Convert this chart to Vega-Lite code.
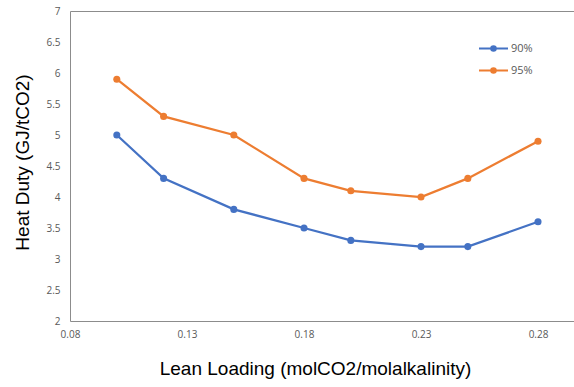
{
  "$schema": "https://vega.github.io/schema/vega-lite/v6.json",
  "autosize": "none",
  "width": 505,
  "height": 310,
  "padding": {"left": 70, "top": 11, "right": 0, "bottom": 66},
  "background": "white",
  "config": {
    "view": {"stroke": "#8c8c8c", "strokeWidth": 1},
    "font": "Liberation Sans"
  },
  "data": {
    "values": [
      {"x": 0.10, "y": 5.0, "series": "90%"},
      {"x": 0.12, "y": 4.3, "series": "90%"},
      {"x": 0.15, "y": 3.8, "series": "90%"},
      {"x": 0.18, "y": 3.5, "series": "90%"},
      {"x": 0.20, "y": 3.3, "series": "90%"},
      {"x": 0.23, "y": 3.2, "series": "90%"},
      {"x": 0.25, "y": 3.2, "series": "90%"},
      {"x": 0.28, "y": 3.6, "series": "90%"},
      {"x": 0.10, "y": 5.9, "series": "95%"},
      {"x": 0.12, "y": 5.3, "series": "95%"},
      {"x": 0.15, "y": 5.0, "series": "95%"},
      {"x": 0.18, "y": 4.3, "series": "95%"},
      {"x": 0.20, "y": 4.1, "series": "95%"},
      {"x": 0.23, "y": 4.0, "series": "95%"},
      {"x": 0.25, "y": 4.3, "series": "95%"},
      {"x": 0.28, "y": 4.9, "series": "95%"}
    ]
  },
  "encoding": {
    "x": {
      "field": "x", "type": "quantitative",
      "scale": {"domain": [0.08, 0.2958], "nice": false, "zero": false},
      "axis": {
        "values": [0.08, 0.13, 0.18, 0.23, 0.28],
        "format": ".2f",
        "grid": false, "domain": false, "ticks": false, "labelFlush": false,
        "labelFont": "Open Sans", "labelFontSize": 10, "labelColor": "#595959",
        "labelPadding": 8,
        "title": "Lean Loading (molCO2/molalkalinity)",
        "titleFont": "Liberation Sans", "titleFontSize": 19, "titleFontWeight": "normal", "titleColor": "#000000",
        "titleX": 245, "titleY": 47, "titleAlign": "center", "titleBaseline": "middle"
      }
    },
    "y": {
      "field": "y", "type": "quantitative",
      "scale": {"domain": [2, 7], "nice": false, "zero": false},
      "axis": {
        "values": [2, 2.5, 3, 3.5, 4, 4.5, 5, 5.5, 6, 6.5, 7],
        "format": ".1~f",
        "grid": false, "domain": false, "ticks": false, "labelFlush": false,
        "labelFont": "Open Sans", "labelFontSize": 10, "labelColor": "#595959",
        "labelPadding": 10,
        "title": "Heat Duty (GJ/tCO2)",
        "titleFont": "Liberation Sans", "titleFontSize": 19, "titleFontWeight": "normal", "titleColor": "#000000",
        "titleX": -48, "titleY": 151, "titleAlign": "center", "titleBaseline": "middle", "titleAngle": -90
      }
    },
    "color": {
      "field": "series", "type": "nominal",
      "scale": {"domain": ["90%", "95%"], "range": ["#4472C4", "#ED7D31"]},
      "legend": {
        "title": null, "orient": "none", "legendX": 408, "legendY": 22,
        "symbolType": "M-1,0H1M0.16,0A0.16,0.16,0,1,1,-0.16,0A0.16,0.16,0,1,1,0.16,0Z",
        "symbolSize": 841, "symbolStrokeWidth": 2,
        "labelFont": "Open Sans", "labelFontSize": 11, "labelColor": "#595959", "labelOffset": 2,
        "rowPadding": 0,
        "encode": {"symbols": {"update": {"fill": {"scale": "color", "field": "value"}, "fillOpacity": {"value": 1}}}}
      }
    }
  },
  "layer": [
    {"mark": {"type": "line", "strokeWidth": 2.25}},
    {"mark": {"type": "point", "filled": true, "size": 50, "opacity": 1}}
  ]
}
